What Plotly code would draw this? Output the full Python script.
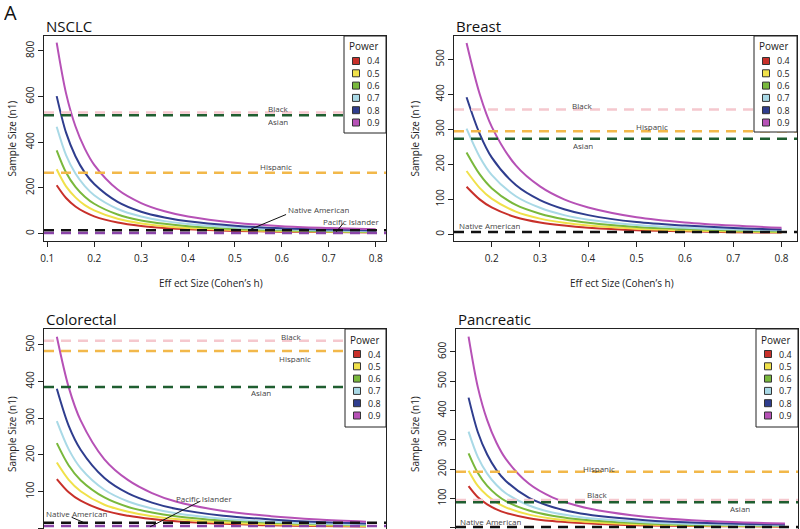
import plotly.graph_objects as go

W, H = 800, 529

# ---------------- data ----------------
powers = ["0.4", "0.5", "0.6", "0.7", "0.8", "0.9"]
power_colors = ["#c8302a", "#f0e14a", "#79b83c", "#a9d9e6", "#2f3d8e", "#b651b6"]

nsclc_h = [0.12, 0.14, 0.16, 0.18, 0.2, 0.25, 0.3, 0.35, 0.4, 0.5, 0.6, 0.7, 0.8]
nsclc_n = [
    [212, 156, 119, 94, 76, 49, 34, 25, 19, 12, 9, 7, 5],
    [282, 207, 159, 125, 102, 65, 45, 33, 25, 16, 12, 9, 7],
    [365, 268, 205, 162, 131, 84, 58, 43, 33, 21, 15, 11, 9],
    [468, 344, 263, 208, 168, 108, 75, 55, 42, 27, 19, 14, 11],
    [602, 442, 339, 267, 217, 139, 96, 71, 54, 35, 24, 18, 14],
    [836, 614, 470, 372, 301, 193, 134, 98, 75, 48, 33, 25, 19],
]

breast_h = [0.148, 0.175, 0.2, 0.25, 0.3, 0.35, 0.4, 0.5, 0.6, 0.7, 0.8]
breast_n = [
    [136, 100, 77, 49, 34, 25, 19, 12, 9, 6, 5],
    [181, 133, 102, 65, 45, 33, 25, 16, 11, 8, 6],
    [234, 172, 132, 84, 59, 43, 33, 21, 15, 11, 8],
    [302, 222, 170, 109, 76, 55, 42, 27, 19, 14, 11],
    [392, 288, 220, 141, 98, 72, 55, 35, 25, 18, 14],
    [547, 402, 308, 197, 137, 100, 77, 49, 34, 25, 19],
]

colorectal_h = [0.15, 0.175, 0.2, 0.25, 0.3, 0.35, 0.4, 0.5, 0.6, 0.7, 0.8]
colorectal_n = [
    [134, 98, 75, 48, 34, 25, 19, 12, 8, 6, 5],
    [179, 132, 101, 64, 45, 33, 25, 16, 11, 8, 6],
    [232, 171, 131, 84, 58, 43, 33, 21, 15, 11, 8],
    [292, 215, 164, 105, 73, 54, 41, 26, 18, 13, 10],
    [380, 279, 214, 137, 95, 70, 53, 34, 24, 17, 13],
    [522, 384, 294, 188, 131, 96, 73, 47, 33, 24, 18],
]

pancreatic_h = [0.12, 0.14, 0.16, 0.18, 0.2, 0.25, 0.3, 0.35, 0.4, 0.5, 0.6, 0.7, 0.8]
pancreatic_n = [
    [142, 104, 80, 63, 51, 33, 23, 17, 13, 8, 6, 5, 4],
    [195, 143, 110, 87, 70, 45, 31, 23, 18, 11, 8, 6, 5],
    [254, 187, 143, 113, 91, 59, 41, 30, 23, 15, 10, 8, 6],
    [328, 241, 185, 146, 118, 76, 52, 39, 30, 19, 13, 10, 8],
    [444, 326, 250, 197, 160, 102, 71, 52, 40, 26, 18, 14, 11],
    [652, 479, 367, 290, 235, 150, 104, 77, 59, 38, 26, 19, 15],
]

# available sample sizes per group
nsclc_groups = ["Black", "Asian", "Hispanic", "Native American", "Pacific Islander"]
nsclc_group_n = [530, 518, 267, 15, 3]
breast_groups = ["Black", "Hispanic", "Asian", "Native American"]
breast_group_n = [357, 295, 273, 7]
colorectal_groups = ["Black", "Hispanic", "Asian", "Native American", "Pacific Islander"]
colorectal_group_n = [511, 483, 385, 15, 6]
pancreatic_groups = ["Hispanic", "Black", "Asian", "Native American"]
pancreatic_group_n = [191, 95, 87, 3]

group_colors = {
    "Black": "#f5c8ce",
    "Asian": "#1f5e30",
    "Hispanic": "#f2b84a",
    "Native American": "#111111",
    "Pacific Islander": "#8a44a8",
}

# ---------------- layout helpers ----------------
def px(x):
    return x / W


def py(y):
    return 1 - y / H


FONT = "Open Sans, Lato, Arial, sans-serif"

panels = [
    dict(title="NSCLC", h=nsclc_h, n=nsclc_n, groups=nsclc_groups, gn=nsclc_group_n,
         box=(44, 36, 386, 241), xr=[0.093, 0.822], yr=[-32, 865], ydt=200, xt=True,
         labels=[("Black", 0.592, 552), ("Asian", 0.592, 492), ("Hispanic", 0.588, 295),
                 ("Native American", 0.678, 110), ("Pacific Islander", 0.748, 57)],
         pointers=[(0.609, 84, 0.534, 20), (0.731, 46, 0.716, 8)],
         legend=(344, 36, 386, 133), ytitle_x=12, xtitle=(211, 283)),
    dict(title="Breast", h=breast_h, n=breast_n, groups=breast_groups, gn=breast_group_n,
         box=(454, 36, 797, 241), xr=[0.122, 0.832], yr=[-19, 567], ydt=100, xt=True,
         labels=[("Black", 0.386, 370), ("Hispanic", 0.531, 310), ("Asian", 0.39, 256),
                 ("Native American", 0.196, 26)],
         pointers=[],
         legend=(754, 36, 797, 132), ytitle_x=415, xtitle=(622, 283)),
    dict(title="Colorectal", h=colorectal_h, n=colorectal_n, groups=colorectal_groups,
         gn=colorectal_group_n,
         box=(44, 329, 386, 529), xr=[0.123, 0.842], yr=[-2, 543], ydt=100, xt=False,
         labels=[("Black", 0.643, 525), ("Hispanic", 0.65, 465), ("Asian", 0.58, 372),
                 ("Native American", 0.192, 41), ("Pacific Islander", 0.46, 83)],
         pointers=[(0.181, 30, 0.206, 16), (0.452, 74, 0.346, 4)],
         legend=(345, 329, 386, 427), ytitle_x=12, xtitle=None),
    dict(title="Pancreatic", h=pancreatic_h, n=pancreatic_n, groups=pancreatic_groups,
         gn=pancreatic_group_n,
         box=(456, 329, 798, 529), xr=[0.093, 0.828], yr=[-4, 678], ydt=100, xt=False,
         labels=[("Hispanic", 0.40, 203), ("Black", 0.395, 115), ("Asian", 0.704, 66),
                 ("Native American", 0.167, 22)],
         pointers=[],
         legend=(756, 329, 798, 427), ytitle_x=415, xtitle=None),
]

fig = go.Figure()
shapes = []
annotations = []
legend_shapes = []


def note(text, x, y, xref="paper", yref="paper", size=10, color="#222", xanchor="center",
         **kw):
    annotations.append(dict(text=text, x=x, y=y, xref=xref, yref=yref, showarrow=False,
                            xanchor=xanchor, yanchor="middle", borderpad=0,
                            font=dict(family=FONT, size=size, color=color), **kw))


for i, p in enumerate(panels):
    k = "" if i == 0 else str(i + 1)
    xa, ya = "x" + k, "y" + k
    x0, y0, x1, y1 = p["box"]
    fig.update_layout(**{
        "xaxis" + k: dict(
            domain=[px(x0), px(x1)], range=p["xr"], anchor=ya,
            showline=True, mirror=True, linecolor="#222", linewidth=1,
            showgrid=False, zeroline=False,
            ticks="outside" if p["xt"] else "", ticklen=5, tickcolor="#222",
            tickvals=[0.1, 0.2, 0.3, 0.4, 0.5, 0.6, 0.7, 0.8],
            ticktext=["0.1", "0.2", "0.3", "0.4", "0.5", "0.6", "0.7", "0.8"],
            showticklabels=p["xt"], tickfont=dict(family=FONT, size=10, color="#222"),
            ticklabelstandoff=3,
        ),
        "yaxis" + k: dict(
            domain=[py(y1), py(y0)], range=p["yr"], anchor=xa,
            showline=True, mirror=True, linecolor="#222", linewidth=1,
            showgrid=False, zeroline=False,
            ticks="outside", ticklen=5, tickcolor="#222", dtick=p["ydt"], tick0=0,
            tickangle=-90, tickfont=dict(family=FONT, size=10, color="#222"),
        ),
    })

    # power curves
    for j, pw in enumerate(powers):
        fig.add_trace(go.Scatter(
            x=p["h"], y=p["n"][j], mode="lines", xaxis=xa, yaxis=ya,
            line=dict(color=power_colors[j], width=2, shape="spline", smoothing=0.9),
            showlegend=False, hoverinfo="skip",
        ))

    # available-sample dashed lines
    xdom = xa + " domain"
    for g, v in zip(p["groups"], p["gn"]):
        shapes.append(dict(type="line", xref=xdom, yref=ya, x0=0, x1=1, y0=v, y1=v,
                           line=dict(color=group_colors[g], width=2.5, dash="10px,7px"),
                           layer="above"))
    for (ha, na, hb, nb) in p["pointers"]:
        shapes.append(dict(type="line", xref=xa, yref=ya, x0=ha, y0=na, x1=hb, y1=nb,
                           line=dict(color="#111", width=1), layer="above"))
    for (g, hx, ny) in p["labels"]:
        note(g, hx, ny, xref=xa, yref=ya, size=8, color="#444", height=10)

    # panel title
    note(p["title"], px(x0 + 1), py(y0 - 10), size=15, color="#111", xanchor="left")
    # y axis title
    yc = (y0 + y1) / 2 if y1 < 529 else 434
    note("Sample Size (n1)", px(p["ytitle_x"]), py(yc), textangle=-90)
    if p["xtitle"]:
        note("Eff ect Size (Cohen’s h)", px(p["xtitle"][0]), py(p["xtitle"][1]))

    # legend box (drawn over the dashed lines)
    lx0, ly0, lx1, ly1 = p["legend"]
    legend_shapes.append(dict(type="rect", xref="paper", yref="paper",
                              x0=px(lx0), x1=px(lx1), y0=py(ly1), y1=py(ly0),
                              fillcolor="white", line=dict(color="#222", width=1),
                              layer="above"))
    note("Power", px(lx0 + 4), py(ly0 + 10), xanchor="left", height=11)
    for j, pw in enumerate(powers):
        cy = ly0 + 25 + j * 12.3
        cx = lx0 + 12
        legend_shapes.append(dict(type="rect", xref="paper", yref="paper",
                                  x0=px(cx - 3.5), x1=px(cx + 3.5), y0=py(cy + 3.5),
                                  y1=py(cy - 3.5),
                                  fillcolor=power_colors[j], line=dict(color="#333", width=1),
                                  layer="above"))
        note(pw, px(cx + 10), py(cy), xanchor="left", size=9, height=11)

note("A", px(3), py(12), size=20, color="#111", xanchor="left", height=20)

fig.update_layout(
    width=W, height=H,
    margin=dict(l=0, r=0, t=0, b=0, autoexpand=False),
    paper_bgcolor="white", plot_bgcolor="white",
    shapes=shapes + legend_shapes,
    annotations=annotations,
    showlegend=False,
)

fig.write_html("out.html")
